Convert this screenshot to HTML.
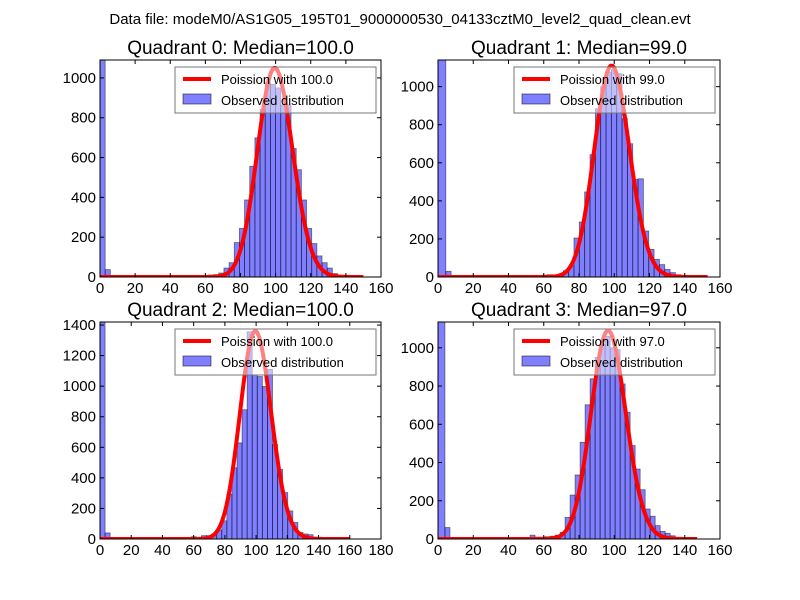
<!DOCTYPE html>
<html><head><meta charset="utf-8"><style>body{margin:0;background:#fff}svg{display:block;font-family:"Liberation Sans",sans-serif}</style></head>
<body>
<svg id="c" width="800" height="600" viewBox="0 0 800 600">
<rect width="800" height="600" fill="#fff"/>
<text x="400" y="24" font-size="15" text-anchor="middle">Data file: modeM0/AS1G05_195T01_9000000530_04133cztM0_level2_quad_clean.evt</text>
</svg>
<script>
const binWidths = [2.94, 3.03, 3.25, 2.84];
const binStarts = [0, 1.4, 0, 1.1];
const medians = [100.0, 99.0, 100.0, 97.0];
const curvePeaks = [1050, 1110, 1360, 1090];
const curveEnds = [150, 153, 160, 147];
const xMaxs = [160, 160, 180, 160];
const yMaxs = [1090, 1140, 1420, 1135];
const yTickStep = [200, 200, 200, 200];
const xTicksA = [0,20,40,60,80,100,120,140,160];
const xTicksB = [0,20,40,60,80,100,120,140,160,180];
// counts per bin (bin i spans [start + w*i, start + w*(i+1)))
const counts0 = [1200,37,0,0,0,0,0,0,0,0,0,0,0,0,0,0,0,0,0,8,8,10,12,20,45,72,173,244,387,556,699,842,976,968,950,864,864,645,539,387,244,168,106,72,45,17,8,0,0,0];
const counts1 = [1200,30,0,0,0,0,0,0,0,0,0,0,0,0,0,0,0,0,0,10,12,10,15,33,58,205,289,447,643,884,1000,1077,1090,1068,832,700,513,516,242,145,93,65,40,23,12,5,0,0,0,0];
const counts2 = [1500,40,0,0,0,0,0,0,0,0,0,0,0,0,0,0,10,10,15,0,22,22,33,59,119,293,466,629,846,1356,1074,1063,998,1110,618,455,304,184,108,43,33,28,10,0,0,0,0,0,0,0];
const counts3 = [1200,60,0,0,0,0,0,0,0,0,0,0,0,0,0,0,0,0,20,10,10,12,15,20,35,113,230,335,506,702,838,950,1020,1060,1000,990,811,663,489,366,258,157,119,70,40,30,17,8,0,0];
const allCounts = [counts0, counts1, counts2, counts3];
const boxes = [[100,60,381,277],[438,60,720,277],[100,322,381,539],[438,322,720,539]];
const NS = "http://www.w3.org/2000/svg";
const svg = document.getElementById('c');
function mk(tag, attrs, parent){const e=document.createElementNS(NS,tag);for(const k in attrs)e.setAttribute(k,attrs[k]);(parent||svg).appendChild(e);return e;}
function logpmf(k,l){let s=0;for(let i=2;i<=k;i++)s+=Math.log(i);return k*Math.log(l)-l-s;}
for(let q=0;q<4;q++){
  const [x0,y0,x1,y1]=boxes[q];
  const xs=v=>x0+(v/xMaxs[q])*(x1-x0);
  const ys=v=>y1-(Math.min(v,yMaxs[q]*1.05)/yMaxs[q])*(y1-y0);
  const g=mk('g',{});
  
  
  const clip=mk('clipPath',{id:'cl'+q},g);mk('rect',{x:x0,y:y0,width:x1-x0,height:y1-y0},clip);
  const pg=mk('g',{'clip-path':'url(#cl'+q+')'},g);
  const bw=binWidths[q];
  allCounts[q].forEach((c,i)=>{
    if(c<=0)return;
    const a=i===0?0:binStarts[q]+i*bw, b=binStarts[q]+(i+1)*bw;
    const r=mk('rect',{x:xs(a),y:ys(c),width:xs(b)-xs(a),height:y1-ys(c),fill:'rgba(0,0,255,0.5)',stroke:'rgba(0,0,0,0.5)','stroke-width':0.8},pg);
    
    
  });
  const lam=medians[q],kp=Math.floor(lam),ref=logpmf(kp,lam);
  let d='';
  for(let k=0;k<=curveEnds[q];k++){const v=curvePeaks[q]*Math.exp(logpmf(k,lam)-ref);d+=(k?'L':'M')+xs(k).toFixed(2)+','+ys(v).toFixed(2);}
  const p=mk('path',{d:d,fill:'none',stroke:'#ff0000','stroke-width':4,'stroke-linejoin':'round'},pg);
  
  
  const lg=mk('g',{},g);
  
  
  const lx=x1-206,ly=y0+7;
  mk('rect',{x:lx,y:ly,width:201,height:46,fill:'rgba(255,255,255,0.5)',stroke:'#777','stroke-width':1},lg);
  mk('line',{x1:lx+8,y1:ly+12,x2:lx+36,y2:ly+12,stroke:'#f00','stroke-width':4},lg);
  const l1=mk('text',{x:lx+46,y:ly+17,'font-size':13},lg);l1.textContent='Poission with '+medians[q].toFixed(1);
  mk('rect',{x:lx+8,y:ly+27,width:28,height:10,fill:'rgba(0,0,255,0.5)',stroke:'rgba(0,0,0,0.5)'},lg);
  const l2=mk('text',{x:lx+46,y:ly+38,'font-size':13},lg);l2.textContent='Observed distribution';
  mk('rect',{x:x0,y:y0,width:x1-x0,height:y1-y0,fill:'none',stroke:'#000','stroke-width':1},g);
  const xt=q==2?xTicksB:xTicksA;
  xt.forEach(v=>{const X=xs(v);
    mk('line',{x1:X,y1:y1,x2:X,y2:y1-4,stroke:'#000'},g);mk('line',{x1:X,y1:y0,x2:X,y2:y0+4,stroke:'#000'},g);
    const t=mk('text',{x:X,y:y1+16,'font-size':15,'text-anchor':'middle'},g);t.textContent=v;
    
    });
  for(let v=0;v<=yMaxs[q];v+=yTickStep[q]){const Y=ys(v);
    mk('line',{x1:x0,y1:Y,x2:x0+4,y2:Y,stroke:'#000'},g);mk('line',{x1:x1,y1:Y,x2:x1-4,y2:Y,stroke:'#000'},g);
    const t=mk('text',{x:x0-4,y:Y+5,'font-size':15,'text-anchor':'end'},g);t.textContent=v;
    
    }
  const tt=mk('text',{x:(x0+x1)/2,y:y0-6,'font-size':19,'text-anchor':'middle'},g);
  tt.textContent='Quadrant '+q+': Median='+medians[q].toFixed(1);
  
  
}
</script>
</body></html>
